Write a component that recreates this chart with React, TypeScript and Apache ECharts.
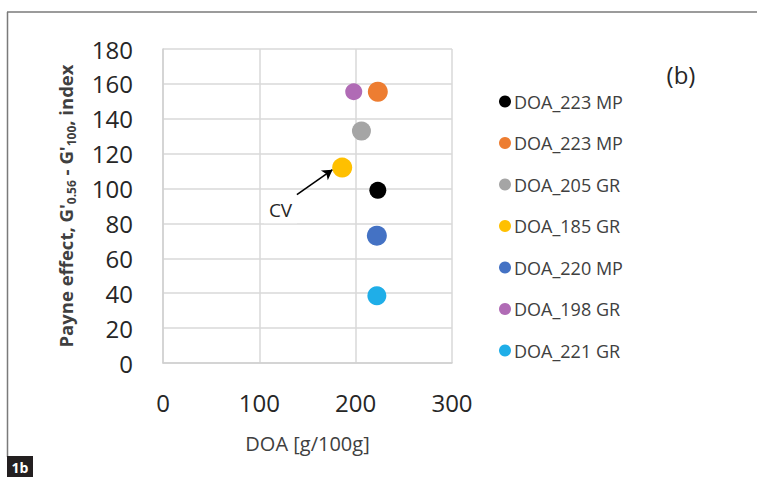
import React, { useEffect, useRef } from "react";
import * as echarts from "echarts";

const seriesNames = ["DOA_223 MP", "DOA_223 MP ", "DOA_205 GR", "DOA_185 GR", "DOA_220 MP", "DOA_198 GR", "DOA_221 GR"];
const legendLabels = ["DOA_223 MP", "DOA_223 MP", "DOA_205 GR", "DOA_185 GR", "DOA_220 MP", "DOA_198 GR", "DOA_221 GR"];
const doaValues = [223, 223, 206, 186, 222, 198, 222];
const payneValues = [99, 155.5, 133, 112, 73, 155.5, 38.5];
const seriesColors = ["#000000", "#ED7D31", "#A5A5A5", "#FFC000", "#4472C4", "#B06BB5", "#1FAEE8"];
const markerSizes = [17, 20, 19, 20, 20, 17, 19];
const xTicks = [0, 100, 200, 300];
const yTicks = [0, 20, 40, 60, 80, 100, 120, 140, 160, 180];
const arrowFrom = [139, 96.5];
const arrowTo = [176, 110.8];
const cvLabelAt = [122, 87.5];

const FONT = "'Open Sans', sans-serif";

export default function App() {
  const ref = useRef<HTMLDivElement>(null);
  useEffect(() => {
    document.body.style.margin = "0";
    const chart = echarts.init(ref.current!, null, { renderer: "svg" });
    const series: any[] = seriesNames.map((name, i) => {
      const s: any = {
        name,
        type: "scatter",
        data: [[doaValues[i], payneValues[i]]],
        symbol: "circle",
        symbolSize: markerSizes[i],
        itemStyle: { color: seriesColors[i], opacity: 1 },
        z: 5,
      };
      if (i === 3) {
        s.markLine = {
          silent: true,
          symbol: ["none", "arrow"],
          symbolSize: [9, 10],
          label: { show: false },
          lineStyle: { color: "#000", width: 1.6, type: "solid" },
          data: [[{ coord: arrowFrom }, { coord: arrowTo }]],
        };
        s.markPoint = {
          silent: true,
          symbol: "rect",
          symbolSize: [33, 26],
          itemStyle: { color: "#ffffff" },
          label: { show: true, formatter: "CV", color: "#262626", fontSize: 19, fontFamily: FONT, position: "inside" },
          data: [{ coord: cvLabelAt }],
        };
      }
      return s;
    });
    chart.setOption({
      animation: false,
      textStyle: { fontFamily: FONT },
      grid: { left: 163, right: 305, top: 49, bottom: 114, containLabel: false },
      xAxis: {
        type: "value",
        min: xTicks[0],
        max: xTicks[xTicks.length - 1],
        interval: 100,
        name: "DOA [g/100g]",
        nameLocation: "middle",
        nameGap: 70,
        nameTextStyle: { color: "#404040", fontSize: 20, fontFamily: FONT },
        axisLine: { show: true, lineStyle: { color: "#d0d0d0", width: 1.5 } },
        axisTick: { show: false },
        axisLabel: { color: "#262626", fontSize: 24, margin: 27, fontFamily: FONT },
        splitLine: { show: true, lineStyle: { color: "#d9d9d9", width: 1.5 } },
      },
      yAxis: {
        type: "value",
        min: yTicks[0],
        max: yTicks[yTicks.length - 1],
        interval: 20,
        name: "{a|Payne effect, G'}{b|0.56}{a| - G'}{b|100}{a|, index}",
        nameLocation: "middle",
        nameRotate: 90,
        nameGap: 88,
        nameTextStyle: {
          rich: {
            a: { fontSize: 18.5, fontWeight: "bold", color: "#404040", fontFamily: FONT, lineHeight: 19, verticalAlign: "top" },
            b: { fontSize: 12, fontWeight: "bold", color: "#404040", fontFamily: FONT, lineHeight: 12, verticalAlign: "top", padding: [9, 0, 0, 0] },
          },
        },
        axisLine: { show: true, lineStyle: { color: "#d0d0d0", width: 1.5 } },
        axisTick: { show: false },
        axisLabel: { color: "#262626", fontSize: 24, margin: 30, fontFamily: FONT },
        splitLine: { show: true, lineStyle: { color: "#d9d9d9", width: 1.5 } },
      },
      legend: {
        orient: "vertical",
        left: 494,
        top: 87,
        itemGap: 22.5,
        itemWidth: 12,
        itemHeight: 12,
        icon: "circle",
        data: seriesNames.map((n) => ({ name: n })),
        formatter: (name: string) => legendLabels[seriesNames.indexOf(name)],
        textStyle: { color: "#404040", fontSize: 18, fontFamily: FONT, lineHeight: 19, padding: [0, 0, 0, -2] },
      },
      graphic: [
        { type: "line", shape: { x1: 7, y1: 12, x2: 757, y2: 12 }, style: { stroke: "#7a7a7a", lineWidth: 1.5 } },
        { type: "line", shape: { x1: 7.5, y1: 12, x2: 7.5, y2: 457 }, style: { stroke: "#7a7a7a", lineWidth: 1.5 } },
        { type: "rect", shape: { x: 7, y: 456, width: 26, height: 21 }, style: { fill: "#231f20" } },
        { type: "text", x: 20, y: 467, style: { text: "1b", fill: "#ffffff", fontSize: 14, fontWeight: "bold", fontFamily: FONT, align: "center", verticalAlign: "middle" } },
        { type: "text", x: 681, y: 74, style: { text: "(b)", fill: "#262626", fontSize: 24, fontFamily: FONT, align: "center", verticalAlign: "middle" } },
      ],
      series,
    });
    return () => chart.dispose();
  }, []);
  return <div ref={ref} style={{ width: 757, height: 477 }} />;
}
